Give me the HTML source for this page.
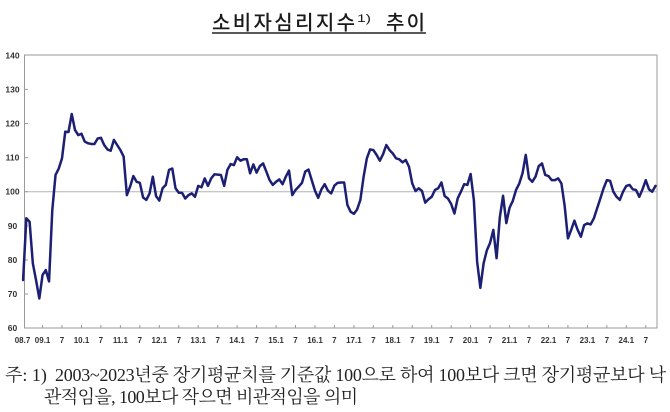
<!DOCTYPE html>
<html>
<head>
<meta charset="utf-8">
<style>
html,body{margin:0;padding:0;background:#fff;}
body{width:670px;height:412px;overflow:hidden;}
svg{display:block;}
.ax{font-family:"Liberation Sans",Arial,sans-serif;font-weight:bold;fill:#333;}
.ttl{font-family:"Liberation Sans","Noto Sans CJK KR",sans-serif;fill:#1a1a1a;font-weight:500;}
.fn{font-family:"Liberation Serif","Noto Serif CJK SC",serif;fill:#222;}
</style>
</head>
<body>
<svg width="670" height="412" viewBox="0 0 670 412" xmlns="http://www.w3.org/2000/svg">
  <rect x="0" y="0" width="670" height="412" fill="#fff"/>
  <!-- Title -->
  <text class="ttl" x="212" y="29.5" font-size="20" textLength="143" lengthAdjust="spacing">소비자심리지수</text>
  <text class="ttl" x="357" y="22" font-size="11" textLength="14" lengthAdjust="spacingAndGlyphs">1)</text>
  <text class="ttl" x="386" y="29.5" font-size="20" textLength="39" lengthAdjust="spacing">추이</text>
  <line x1="212" y1="33" x2="426" y2="33" stroke="#222" stroke-width="1.4"/>

  <!-- Plot frame -->
  <rect x="24.5" y="55" width="632.5" height="273" fill="none" stroke="#9a9a9a" stroke-width="1"/>
  <!-- 100 reference line -->
  <line x1="25" y1="191.7" x2="657" y2="191.7" stroke="#b4b4b4" stroke-width="1"/>

  <!-- Y ticks -->
  <g stroke="#9a9a9a" stroke-width="1">
    <line x1="24.5" y1="89.4" x2="28" y2="89.4"/>
    <line x1="24.5" y1="123.5" x2="28" y2="123.5"/>
    <line x1="24.5" y1="157.6" x2="28" y2="157.6"/>
    <line x1="24.5" y1="191.7" x2="28" y2="191.7"/>
    <line x1="24.5" y1="225.8" x2="28" y2="225.8"/>
    <line x1="24.5" y1="259.9" x2="28" y2="259.9"/>
    <line x1="24.5" y1="294" x2="28" y2="294"/>
  </g>
  <!-- Y labels -->
  <g class="ax" font-size="8.5" text-anchor="middle">
    <text x="12.5" y="58.3">140</text>
    <text x="12.5" y="92.4">130</text>
    <text x="12.5" y="126.5">120</text>
    <text x="12.5" y="160.6">110</text>
    <text x="12.5" y="194.7">100</text>
    <text x="12.5" y="228.8">90</text>
    <text x="12.5" y="262.9">80</text>
    <text x="12.5" y="297">70</text>
    <text x="12.5" y="331.1">60</text>
  </g>

  <!-- X ticks -->
  <g stroke="#9a9a9a" stroke-width="1">
    <line x1="42.6" y1="328" x2="42.6" y2="325"/>
    <line x1="62.0" y1="328" x2="62.0" y2="325"/>
    <line x1="81.5" y1="328" x2="81.5" y2="325"/>
    <line x1="100.9" y1="328" x2="100.9" y2="325"/>
    <line x1="120.4" y1="328" x2="120.4" y2="325"/>
    <line x1="139.8" y1="328" x2="139.8" y2="325"/>
    <line x1="159.3" y1="328" x2="159.3" y2="325"/>
    <line x1="178.8" y1="328" x2="178.8" y2="325"/>
    <line x1="198.2" y1="328" x2="198.2" y2="325"/>
    <line x1="217.7" y1="328" x2="217.7" y2="325"/>
    <line x1="237.1" y1="328" x2="237.1" y2="325"/>
    <line x1="256.6" y1="328" x2="256.6" y2="325"/>
    <line x1="276.1" y1="328" x2="276.1" y2="325"/>
    <line x1="295.5" y1="328" x2="295.5" y2="325"/>
    <line x1="315.0" y1="328" x2="315.0" y2="325"/>
    <line x1="334.4" y1="328" x2="334.4" y2="325"/>
    <line x1="353.9" y1="328" x2="353.9" y2="325"/>
    <line x1="373.3" y1="328" x2="373.3" y2="325"/>
    <line x1="392.8" y1="328" x2="392.8" y2="325"/>
    <line x1="412.3" y1="328" x2="412.3" y2="325"/>
    <line x1="431.7" y1="328" x2="431.7" y2="325"/>
    <line x1="451.2" y1="328" x2="451.2" y2="325"/>
    <line x1="470.6" y1="328" x2="470.6" y2="325"/>
    <line x1="490.1" y1="328" x2="490.1" y2="325"/>
    <line x1="509.6" y1="328" x2="509.6" y2="325"/>
    <line x1="529.0" y1="328" x2="529.0" y2="325"/>
    <line x1="548.5" y1="328" x2="548.5" y2="325"/>
    <line x1="567.9" y1="328" x2="567.9" y2="325"/>
    <line x1="587.4" y1="328" x2="587.4" y2="325"/>
    <line x1="606.8" y1="328" x2="606.8" y2="325"/>
    <line x1="626.3" y1="328" x2="626.3" y2="325"/>
    <line x1="645.8" y1="328" x2="645.8" y2="325"/>
  </g>
  <!-- X labels -->
  <g class="ax" font-size="8" text-anchor="middle">
    <text x="22.5" y="343">08.7</text>
    <text x="42.6" y="343">09.1</text>
    <text x="62.0" y="343">7</text>
    <text x="81.5" y="343">10.1</text>
    <text x="100.9" y="343">7</text>
    <text x="120.4" y="343">11.1</text>
    <text x="139.8" y="343">7</text>
    <text x="159.3" y="343">12.1</text>
    <text x="178.8" y="343">7</text>
    <text x="198.2" y="343">13.1</text>
    <text x="217.7" y="343">7</text>
    <text x="237.1" y="343">14.1</text>
    <text x="256.6" y="343">7</text>
    <text x="276.1" y="343">15.1</text>
    <text x="295.5" y="343">7</text>
    <text x="315.0" y="343">16.1</text>
    <text x="334.4" y="343">7</text>
    <text x="353.9" y="343">17.1</text>
    <text x="373.3" y="343">7</text>
    <text x="392.8" y="343">18.1</text>
    <text x="412.3" y="343">7</text>
    <text x="431.7" y="343">19.1</text>
    <text x="451.2" y="343">7</text>
    <text x="470.6" y="343">20.1</text>
    <text x="490.1" y="343">7</text>
    <text x="509.6" y="343">21.1</text>
    <text x="529.0" y="343">7</text>
    <text x="548.5" y="343">22.1</text>
    <text x="567.9" y="343">7</text>
    <text x="587.4" y="343">23.1</text>
    <text x="606.8" y="343">7</text>
    <text x="626.3" y="343">24.1</text>
    <text x="645.8" y="343">7</text>
  </g>

  <!-- Data series -->
  <polyline transform="translate(23.1,532.7) scale(3.243,-3.41)" fill="none" stroke="#1c1f73" stroke-width="2.5" vector-effect="non-scaling-stroke" stroke-linejoin="round" stroke-linecap="round"
    points="0,74.1 1,92.2 2,91.2 3,79 4,74 5,68.7 6,75.6 7,77 8,73.7 9,94.6 10,104.9 11,106.8 12,109.8 13,117.6 14,117.5 15,122.8 16,118.1 17,116.6 18,117 19,114.7 20,114.2 21,114 22,114 23,115.6 24,115.8 25,113.7 26,112.4 27,112 28,115.2 29,113.7 30,112.2 31,110.3 32,99 33,101.5 34,104.6 35,102.9 36,102.6 37,98.3 38,97.6 39,99.5 40,104.4 41,98.7 42,97.4 43,101 44,102 45,106.4 46,106.8 47,101 48,99.7 49,99.7 50,98 51,99 52,99.5 53,98.5 54,101.7 55,101.3 56,103.9 57,101.7 58,103.9 59,105.1 60,105 61,104.9 62,101.7 63,106.4 64,108.1 65,107.8 66,110.1 67,109.1 68,109.5 69,109.5 70,105.4 71,108 72,105.6 73,107.5 74,108.3 75,105.9 76,103.4 77,102 78,102.9 79,103.6 80,102.2 81,104.4 82,106.2 83,99 84,100.5 85,101.5 86,102.6 87,105.9 88,106.5 89,103.4 90,100.3 91,98.2 92,100.7 93,102.2 94,100.3 95,99.5 96,101.8 97,102.6 98,102.7 99,102.7 100,96.1 101,94.1 102,93.5 103,94.8 104,97.6 105,104.4 106,109.8 107,112.4 108,112.2 109,110.8 110,109.1 111,111 112,113.7 113,112.2 114,111.2 115,109.8 116,109.5 117,108.6 118,109.3 119,107.3 120,102.4 121,100.2 122,101 123,100.2 124,96.8 125,97.8 126,98.5 127,100.5 128,101 129,102.7 130,98.7 131,98 132,96.4 133,93.6 134,98 135,100 136,102.2 137,102 138,105.2 139,97.5 140,79.5 141,71.8 142,79 143,82.8 144,85 145,88.8 146,80.5 147,92.5 148,98.8 149,90.8 150,95.3 151,97.3 152,100.5 153,102.4 154,105.4 155,110.8 156,103.9 157,102.9 158,104.4 159,107.5 160,108.3 161,104.9 162,104.6 163,103.4 164,103.4 165,103.9 166,102.4 167,95.8 168,86.3 169,88.8 170,91.5 171,88.8 172,86.8 173,90.2 174,90.7 175,90.4 176,92.2 177,95.1 178,98 179,101 180,103.4 181,103.2 182,100 183,98.5 184,97.6 185,100 186,101.7 187,102 188,100.7 189,100.5 190,98.5 191,100.7 192,103.4 193,100.7 194,100 195,101.7"/>

  <!-- Footnote -->
  <text class="fn" x="5" y="381" font-size="18">주: 1)</text>
  <text class="fn" x="55" y="381" font-size="18" textLength="611" lengthAdjust="spacing">2003~2023년중 장기평균치를 기준값 100으로 하여 100보다 크면 장기평균보다 낙</text>
  <text class="fn" x="44" y="403" font-size="18" textLength="314" lengthAdjust="spacing">관적임을, 100보다 작으면 비관적임을 의미</text>
</svg>
</body>
</html>
